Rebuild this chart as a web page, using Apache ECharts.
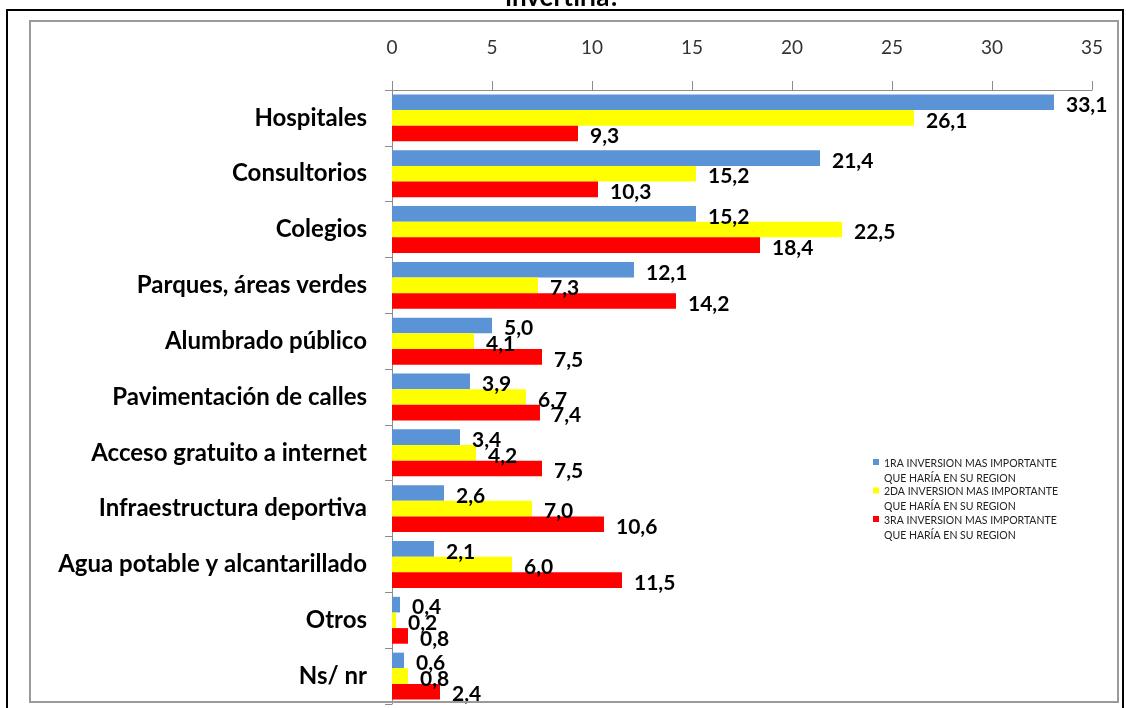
<!DOCTYPE html>
<html>
<head>
<meta charset="utf-8">
<script src="https://cdn.jsdelivr.net/npm/echarts@6/dist/echarts.min.js"></script>
<style>
  html, body { margin: 0; padding: 0; background: #fff; }
  #chart { width: 1126px; height: 708px; }
</style>
</head>
<body>
<div id="chart"></div>
<script>
const categories = [
  'Hospitales', 'Consultorios', 'Colegios', 'Parques, áreas verdes',
  'Alumbrado público', 'Pavimentación de calles', 'Acceso gratuito a internet',
  'Infraestructura deportiva', 'Agua potable y alcantarillado', 'Otros', 'Ns/ nr'
]
const seriesNames = [
  '1RA INVERSION MAS IMPORTANTE\nQUE HARÍA EN SU REGION',
  '2DA INVERSION MAS IMPORTANTE\nQUE HARÍA EN SU REGION',
  '3RA INVERSION MAS IMPORTANTE\nQUE HARÍA EN SU REGION'
]
const primera = [33.1, 21.4, 15.2, 12.1, 5.0, 3.9, 3.4, 2.6, 2.1, 0.4, 0.6]
const segunda = [26.1, 15.2, 22.5, 7.3, 4.1, 6.7, 4.2, 7.0, 6.0, 0.2, 0.8]
const tercera = [9.3, 10.3, 18.4, 14.2, 7.5, 7.4, 7.5, 10.6, 11.5, 0.8, 2.4]
const colors = ['#5B93D7', '#FFFF00', '#FF0000']

const fontFam = 'Lato, "Open Sans", sans-serif'

// square sitting at the top of a taller box, so it lines up with the first text line
const legendIcon = 'path://M0,0h6v6h-6z M0,24h0.01'

const chart = echarts.init(document.getElementById('chart'))

function makeSeries (name, data, color) {
  return {
    name: name,
    type: 'bar',
    data: data,
    barGap: '0%',
    barCategoryGap: '16%',
    itemStyle: { color: color },
    label: {
      show: true,
      position: 'right',
      distance: 12,
      offset: [0, 3],
      color: '#000',
      fontFamily: fontFam,
      fontWeight: 'bold',
      fontSize: 21,
      formatter: (p) => p.value.toFixed(1).replace('.', ',')
    }
  }
}

const option = {
  animation: false,
  backgroundColor: '#fff',
  title: {
    text: 'invertiría?',
    left: 'center',
    top: -20,
    textStyle: {
      fontFamily: fontFam,
      fontWeight: 'bold',
      fontSize: 26,
      color: '#000'
    }
  },
  graphic: [
    {
      type: 'rect',
      shape: { x: 7, y: 10, width: 1116, height: 710 },
      style: { fill: 'none', stroke: '#000', lineWidth: 2 },
      z: 100
    },
    {
      type: 'rect',
      shape: { x: 30, y: 21, width: 1088, height: 681 },
      style: { fill: 'none', stroke: '#9a9a9a', lineWidth: 2 },
      z: 100
    }
  ],
  legend: {
    orient: 'vertical',
    left: 868,
    top: 451,
    itemWidth: 6,
    itemHeight: 24,
    itemGap: -1.5,
    icon: legendIcon,
    data: seriesNames,
    textStyle: {
      fontFamily: fontFam,
      fontSize: 10.5,
      lineHeight: 15,
      color: '#222'
    }
  },
  grid: {
    left: 392,
    right: 34,
    top: 90,
    bottom: 4,
    containLabel: false
  },
  xAxis: {
    type: 'value',
    position: 'top',
    min: 0,
    max: 35,
    interval: 5,
    splitLine: { show: false },
    axisLine: { show: true, lineStyle: { color: '#8c8c8c', width: 1 } },
    axisTick: { show: true, length: 9, lineStyle: { color: '#8c8c8c' } },
    axisLabel: {
      margin: 33,
      fontFamily: fontFam,
      fontSize: 19,
      color: '#333'
    }
  },
  yAxis: {
    type: 'category',
    inverse: true,
    data: categories,
    axisLine: { show: true, lineStyle: { color: '#8c8c8c', width: 1 } },
    axisTick: { show: true, length: 7, lineStyle: { color: '#8c8c8c' } },
    axisLabel: {
      margin: 25,
      fontFamily: fontFam,
      fontWeight: 'bold',
      fontSize: 24,
      color: '#000'
    }
  },
  series: [
    makeSeries(seriesNames[0], primera, colors[0]),
    makeSeries(seriesNames[1], segunda, colors[1]),
    makeSeries(seriesNames[2], tercera, colors[2])
  ]
}

chart.setOption(option)
</script>
</body>
</html>
